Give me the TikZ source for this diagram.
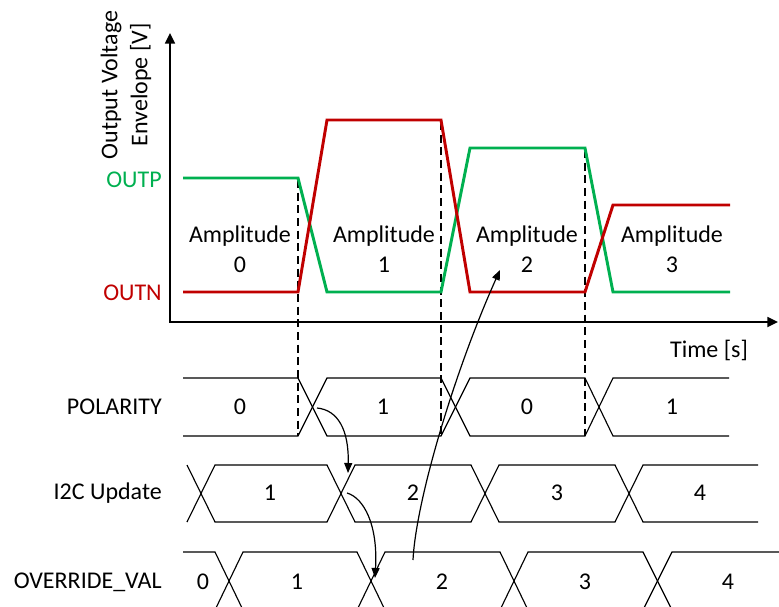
\documentclass[tikz,border=0pt]{standalone}
\usepackage{fontspec}
\setmainfont{Carlito}
\usetikzlibrary{arrows.meta}
\definecolor{outp}{RGB}{0,176,80}
\definecolor{outn}{RGB}{192,0,0}
\begin{document}
\begin{tikzpicture}[x=0.75pt,y=-0.75pt,
  every node/.style={font=\fontsize{18}{22.5}\selectfont, inner sep=0pt},
  sig/.style={line width=2.2pt, line join=miter},
  wave/.style={line width=0.85pt},
  guide/.style={line width=0.9pt, dash pattern=on 6pt off 3.5pt},
  axis/.style={line width=1.3pt, {Triangle[length=8pt,width=7.5pt]}-{Triangle[length=8pt,width=7.5pt]}},
  cause/.style={line width=0.9pt, -{Triangle[length=7.5pt,width=6pt]}},
  lbl/.style={anchor=east},
  amp/.style={align=center}]

\useasboundingbox (0,0) rectangle (779,607);
\clip (0,0) rectangle (779,607);

% axes
\coordinate (ytip) at (170,33);
\coordinate (origin) at (170,322);
\coordinate (xtip) at (778,322);
\draw[axis] (ytip) -- (origin) -- (xtip);

% dashed guides
\draw[guide] (298,180) -- (298,436);
\draw[guide] (441,122) -- (441,436);
\draw[guide] (585,150) -- (585,436);

% output envelopes
\draw[sig, outp] (183,178) -- (298,178) -- (327,292) -- (441,292) -- (470,148) -- (585,148) -- (613,292) -- (730,292);
\draw[sig, outn] (183,292) -- (298,292) -- (327,120) -- (441,120) -- (470,292) -- (585,292) -- (613,205) -- (730,205);

% POLARITY bus
\draw[wave] (183,378) -- (298,378) -- (327,436) -- (441,436) -- (470,378) -- (585,378) -- (613,436) -- (729,436);
\draw[wave] (183,436) -- (298,436) -- (327,378) -- (441,378) -- (470,436) -- (585,436) -- (613,378) -- (729,378);

% I2C Update bus
\draw[wave] (187,465) -- (215,522) -- (327,522) -- (355,465) -- (471,465) -- (499,522) -- (615,522) -- (643,465) -- (758,465);
\draw[wave] (187,522) -- (215,465) -- (327,465) -- (355,522) -- (471,522) -- (499,465) -- (615,465) -- (643,522) -- (758,522);

% OVERRIDE_VAL bus
\draw[wave] (183,552) -- (215,552) -- (243,610) -- (357,610) -- (385,552) -- (500,552) -- (528,610) -- (643,610) -- (672,552) -- (782,552);
\draw[wave] (183,610) -- (215,610) -- (243,552) -- (357,552) -- (385,610) -- (500,610) -- (528,552) -- (643,552) -- (672,610) -- (782,610);

% labels
\node[rotate=90, align=center] (ylab) at (126,85) {Output Voltage\\Envelope [V]};
\node[lbl, text=outp] (outpL) at (162,180) {OUTP};
\node[lbl, text=outn] (outnL) at (162,293) {OUTN};
\node (tlab) at (709,350) {Time [s]};

\node[amp] (a0) at (240,249) {Amplitude\\0};
\node[amp] (a1) at (384,249) {Amplitude\\1};
\node[amp] (a2) at (527,249) {Amplitude\\2};
\node[amp] (a3) at (672,249) {Amplitude\\3};

\node[lbl] (polL) at (162,407) {POLARITY};
\node[lbl] (i2cL) at (162,493) {I2C Update};
\node[lbl] (ovrL) at (162,582) {OVERRIDE\_VAL};

\node (p0) at (240,407) {0};
\node (p1) at (383,407) {1};
\node (p2) at (527,407) {0};
\node (p3) at (672,407) {1};

\node (u1) at (270,493) {1};
\node (u2) at (413,493) {2};
\node (u3) at (557,493) {3};
\node (u4) at (700,493) {4};

\node (o0) at (203,582) {0};
\node (o1) at (297,582) {1};
\node (o2) at (442,582) {2};
\node (o3) at (585,582) {3};
\node (o4) at (728,582) {4};

% causal arrows
\coordinate (c1s) at (317,408);
\coordinate (c1e) at (348,473);
\draw[cause] (c1s) .. controls (338,410) and (349,430) .. (c1e);
\coordinate (c2s) at (347,493);
\coordinate (c2e) at (375,578);
\draw[cause] (c2s) .. controls (364,498) and (378,525) .. (c2e);
\coordinate (c3s) at (413,560);
\coordinate (c3e) at (500,270);
\draw[cause] (c3s) .. controls (416,500) and (455,370) .. (c3e);
\end{tikzpicture}
\end{document}
